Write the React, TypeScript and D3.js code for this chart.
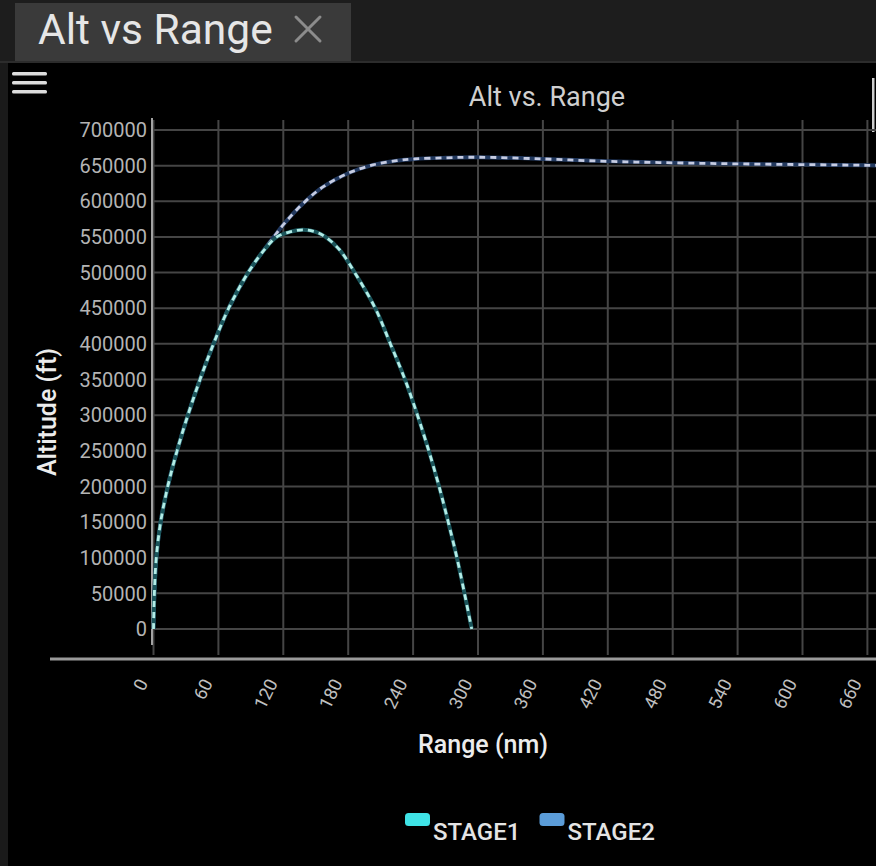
import React from "react";
import * as d3 from "d3";

// Stage trajectories: [range (nm), altitude (ft)]
const stage1Range = [0, 0.8, 2.6, 6.6, 13.2, 21.8, 31.8, 43.0, 55.5, 69.5, 87.5, 103, 114, 126, 138, 150, 159, 172, 186, 205, 219, 232.5, 244, 254.5, 264, 272.5, 280.5, 287.5, 294.2];
const stage1Alt = [0, 50000, 100000, 150000, 200000, 250000, 300000, 350000, 400000, 450000, 500000, 533000, 550000, 557000, 560000, 557000, 550000, 532000, 500000, 450000, 400000, 350000, 300000, 250000, 200000, 150000, 100000, 50000, 0];

const stage2Range = [0, 0.8, 2.6, 6.6, 13.2, 21.8, 31.8, 43.0, 55.5, 69.5, 87.5, 103, 112, 121.6, 138.5, 157, 180, 203, 224.8, 241.7, 270, 300, 360, 420, 480, 540, 600, 660, 720];
const stage2Alt = [0, 50000, 100000, 150000, 200000, 250000, 300000, 350000, 400000, 450000, 500000, 533500, 551500, 570000, 597300, 620500, 639300, 651000, 657000, 659400, 661000, 661800, 659400, 656000, 654000, 652500, 651500, 650500, 649500];

const xTicks = [0, 60, 120, 180, 240, 300, 360, 420, 480, 540, 600, 660];
const yTicks = [0, 50000, 100000, 150000, 200000, 250000, 300000, 350000, 400000, 450000, 500000, 550000, 600000, 650000, 700000];

const seriesNames = ["STAGE1", "STAGE2"];
const legendColors = ["#3fe3e6", "#5b9cd8"];

const W = 876;
const H = 866;
const FONT = "Roboto, 'Noto Sans', sans-serif";

export default function App() {
  const x = d3.scaleLinear().domain([0, 720]).range([153.5, 932.3]);
  const y = d3.scaleLinear().domain([0, 700000]).range([629, 130]);

  const line = d3
    .line<[number, number]>()
    .x((d) => x(d[0]))
    .y((d) => y(d[1]))
    .curve(d3.curveCatmullRom.alpha(0.5));

  const s1 = stage1Range.map((r, i) => [r, stage1Alt[i]] as [number, number]);
  const s2 = stage2Range.map((r, i) => [r, stage2Alt[i]] as [number, number]);

  const plotTop = 120;
  const plotBottom = 655;
  const axisY = 659;

  return (
    <div style={{ position: "absolute", left: 0, top: 0 }}>
      <svg width={W} height={H} style={{ display: "block", background: "#000" }}>
        {/* tab bar */}
        <rect x={0} y={0} width={W} height={62} fill="#1d1d1d" />
        <rect x={15} y={3} width={336} height={58} fill="#3a3a3a" />
        <rect x={0} y={61} width={W} height={2} fill="#2c2c2c" />
        <text x={38} y={44} fill="#e6e6e6" fontFamily={FONT} fontSize={42.5}>
          Alt vs Range
        </text>
        <g stroke="#8c8c8c" strokeWidth={3} strokeLinecap="round">
          <line x1={296} y1={17} x2={320} y2={41} />
          <line x1={320} y1={17} x2={296} y2={41} />
        </g>
        <rect x={0} y={63} width={8} height={H - 63} fill="#1a1a1a" />

        {/* menu icon */}
        <g fill="#dcdcdc">
          <rect x={12} y={72} width={35} height={3.5} rx={1.5} />
          <rect x={12} y={81} width={35} height={3.5} rx={1.5} />
          <rect x={12} y={90} width={35} height={3.5} rx={1.5} />
        </g>
        <rect x={872} y={78} width={2.5} height={54} fill="#cfcfcf" />

        {/* title */}
        <text x={547} y={106} textAnchor="middle" fill="#cfcfcf" fontFamily={FONT} fontSize={27}>
          Alt vs. Range
        </text>

        {/* grid */}
        <g stroke="#454545" strokeWidth={2}>
          {yTicks.map((t) => (
            <line key={"hy" + t} x1={153} x2={W} y1={y(t)} y2={y(t)} />
          ))}
          {xTicks.map((t) => (
            <line key={"vx" + t} x1={x(t)} x2={x(t)} y1={plotTop} y2={plotBottom} />
          ))}
        </g>

        {/* y axis */}
        <line x1={152} x2={152} y1={118} y2={645} stroke="#a3a3a3" strokeWidth={2} />
        <g fill="#b4b4b4" fontFamily={FONT} fontSize={20} textAnchor="end">
          {yTicks.map((t) => (
            <text key={"yl" + t} x={147} y={y(t)} dy="0.36em">
              {t}
            </text>
          ))}
        </g>
        <text
          transform={`translate(47,412) rotate(-90)`}
          textAnchor="middle"
          dy="0.36em"
          fill="#ececec"
          fontFamily={FONT}
          fontSize={25}
          fontWeight={500}
        >
          Altitude (ft)
        </text>

        {/* x axis */}
        <line x1={50} x2={W} y1={axisY} y2={axisY} stroke="#9a9a9a" strokeWidth={3} />
        <g fill="#c0c0c0" fontFamily={FONT} fontSize={18} textAnchor="end">
          {xTicks.map((t) => (
            <text key={"xl" + t} transform={`translate(${x(t) - 11},680) rotate(-64)`} dy="0.36em">
              {t}
            </text>
          ))}
        </g>
        <text x={483} y={753} textAnchor="middle" fill="#ececec" fontFamily={FONT} fontSize={25} fontWeight={500}>
          Range (nm)
        </text>

        {/* series */}
        <path d={line(s2) || ""} fill="none" stroke="#22395f" strokeWidth={4} />
        <path d={line(s2) || ""} fill="none" stroke="#c6cce2" strokeWidth={2.8} strokeDasharray="6 5" />
        <path d={line(s1) || ""} fill="none" stroke="#1b555b" strokeWidth={4} />
        <path d={line(s1) || ""} fill="none" stroke="#b2ece6" strokeWidth={2.8} strokeDasharray="6 5" />

        {/* legend */}
        {seriesNames.map((name, i) => {
          const lx = 405 + i * 134.5;
          return (
            <g key={name}>
              <rect x={lx} y={813} width={25} height={13} rx={3.5} fill={legendColors[i]} />
              <text x={lx + 28} y={840} fill="#e4e4e4" fontFamily={FONT} fontSize={24} fontWeight={500}>
                {name}
              </text>
            </g>
          );
        })}
      </svg>
    </div>
  );
}
